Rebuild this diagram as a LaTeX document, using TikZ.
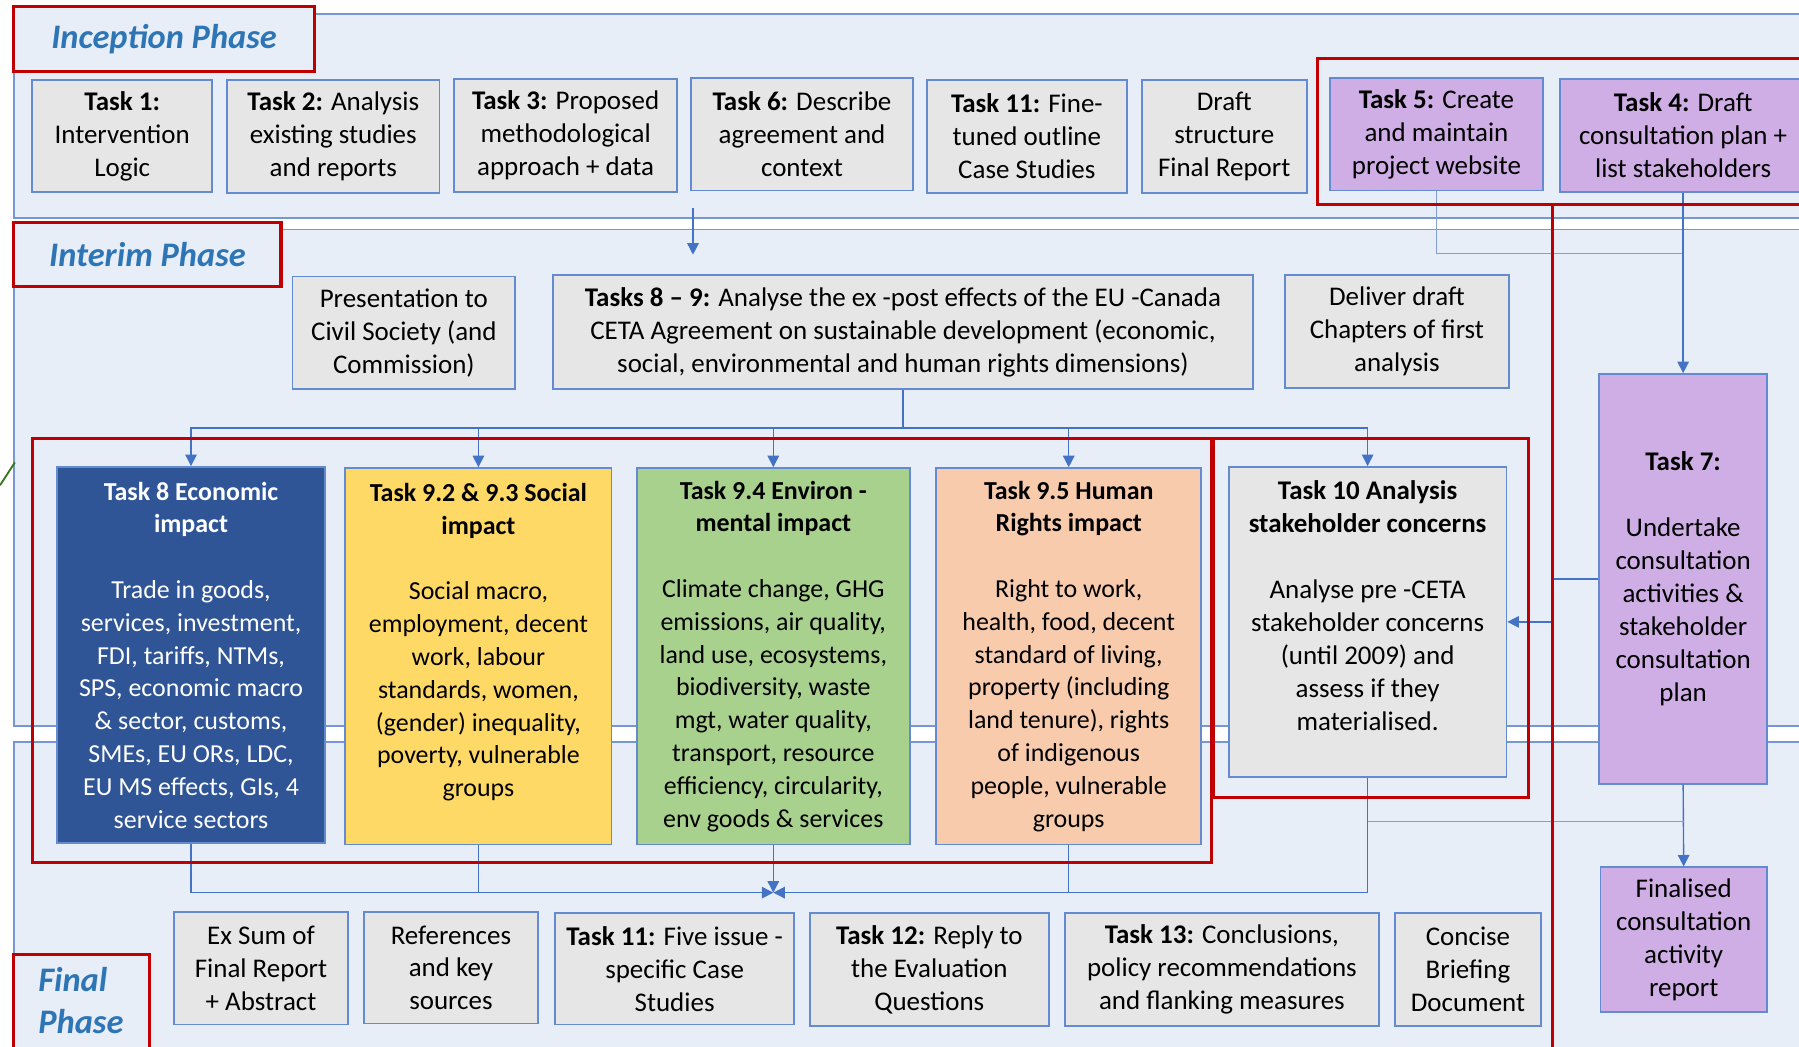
\documentclass[tikz,border=0pt]{standalone}
\usepackage{fontspec}
\setmainfont{Carlito}
\usetikzlibrary{arrows.meta}
\definecolor{bandfill}{RGB}{232,238,248}
\definecolor{bandline}{RGB}{118,150,212}
\definecolor{boxline}{RGB}{100,138,208}
\definecolor{grayfill}{RGB}{231,230,230}
\definecolor{ecoblue}{RGB}{47,85,151}
\definecolor{socyel}{RGB}{255,217,102}
\definecolor{envgreen}{RGB}{169,209,142}
\definecolor{hrpeach}{RGB}{248,203,173}
\definecolor{lav}{RGB}{207,174,230}
\definecolor{redframe}{RGB}{192,0,0}
\definecolor{phaseblue}{RGB}{46,117,182}
\definecolor{conncol}{RGB}{68,114,196}
\definecolor{connlight}{RGB}{130,160,215}
\definecolor{darkgreen}{RGB}{56,118,29}
\newcommand\bx[7]{\node[#6, minimum width={(#4-#2)*0.5pt}, minimum height={(#5-#3)*0.5pt}] (#1) at ({(#2+#4)/2},{(#3+#5)/2}) {#7};}
\begin{document}
\begin{tikzpicture}[x=0.5pt,y=-0.5pt,
  base/.style={draw=boxline, line width=0.8pt, inner sep=0pt, align=center, text=black,
    font=\fontsize{11.75}{14.35}\selectfont},
  graybox/.style={base, fill=grayfill},
  purplebox/.style={base, fill=lav},
  impact/.style={base, font=\fontsize{11.3}{14.3}\selectfont},
  ecobox/.style={impact, fill=ecoblue, text=white},
  socbox/.style={impact, fill=socyel},
  envbox/.style={impact, fill=envgreen},
  hrbox/.style={impact, fill=hrpeach},
  band/.style={fill=bandfill, draw=bandline, line width=0.8pt},
  redbox/.style={draw=redframe, line width=1.4pt},
  phaselabel/.style={redbox, fill=bandfill, inner sep=0pt, text=phaseblue,
    font=\fontsize{15}{18}\selectfont\bfseries\itshape},
  conn/.style={draw=conncol, line width=0.6pt},
  connl/.style={draw=connlight, line width=0.6pt},
  arr/.style={conn, -{Triangle[length=5pt,width=5pt]}}
]
\useasboundingbox (0,0) rectangle (1568,912);
\clip (0,0) rectangle (1568,912);
\fill[white] (0,0) rectangle (1568,912);
% bands
\draw[band] (12,12) rectangle (1620,190);
\draw[band] (12,200) rectangle (1620,633);
\draw[band] (12,647) rectangle (1620,960);
\draw[darkgreen, line width=0.8pt] (0,423) -- (13,403);
% phase labels
\bx{lincep}{12}{6}{274}{62}{phaselabel}{\raisebox{-2pt}{Inception Phase}}
\bx{linter}{12}{194}{245}{250}{phaselabel}{Interim Phase}
\draw[redbox, fill=bandfill] (12,832) rectangle (130,960);
\node[anchor=west, inner sep=0pt, align=left, text=phaseblue,
  font=\fontsize{15}{18}\selectfont\bfseries\itshape] (lfinal) at (33,872) {Final\\Phase};
% inception row
\bx{t1}{28}{70}{185}{167}{graybox}{\textbf{Task 1:}\\Intervention\\Logic}
\bx{t2}{198}{70}{383}{168}{graybox}{\textbf{Task 2:} Analysis\\existing studies\\and reports}
\bx{t3}{396}{69}{590}{167}{graybox}{\textbf{Task 3:} Proposed\\methodological\\approach + data}
\bx{t6}{602}{68}{796}{166}{graybox}{\textbf{Task 6:} Describe\\agreement and\\context}
\bx{t11}{808}{70}{982}{168}{graybox}{\textbf{Task 11:} Fine-\\tuned outline\\Case Studies}
\bx{tdraft}{995}{70}{1139}{168}{graybox}{Draft\\structure\\Final Report}
\bx{t5}{1159}{68}{1345}{166}{purplebox}{\textbf{Task 5:} Create\\and maintain\\project website}
\bx{t4}{1360}{69}{1574}{167}{purplebox}{\textbf{Task 4:} Draft\\consultation plan +\\list stakeholders}
% interim row
\bx{pres}{255}{241}{449}{339}{graybox}{Presentation to\\Civil Society (and\\Commission)}
\bx{t89}{482}{240}{1092}{339}{graybox}{\textbf{Tasks 8 – 9:} Analyse the ex -post effects of the EU -Canada\\CETA Agreement on sustainable development (economic,\\social, environmental and human rights dimensions)}
\bx{deliv}{1120}{240}{1315}{338}{graybox}{Deliver draft\\Chapters of first\\analysis}
% impact boxes
\bx{t8}{50}{407}{283}{735}{ecobox}{\textbf{Task 8 Economic}\\\textbf{impact}\\[14.3pt]Trade in goods,\\services, investment,\\FDI, tariffs, NTMs,\\SPS, economic macro\\\& sector, customs,\\SMEs, EU ORs, LDC,\\EU MS effects, GIs, 4\\service sectors}
\bx{t92}{301}{408}{533}{736}{socbox}{\textbf{Task 9.2 \& 9.3 Social}\\\textbf{impact}\\[14.3pt]Social macro,\\employment, decent\\work, labour\\standards, women,\\(gender) inequality,\\poverty, vulnerable\\groups\\\mbox{}}
\bx{t94}{555}{408}{793}{736}{envbox}{\textbf{Task 9.4 Environ -}\\\textbf{mental impact}\\[14.3pt]Climate change, GHG\\emissions, air quality,\\land use, ecosystems,\\biodiversity, waste\\mgt, water quality,\\transport, resource\\efficiency, circularity,\\env goods \& services}
\bx{t95}{816}{408}{1047}{736}{hrbox}{\textbf{Task 9.5 Human}\\\textbf{Rights impact}\\[14.3pt]Right to work,\\health, food, decent\\standard of living,\\property (including\\land tenure), rights\\of indigenous\\people, vulnerable\\groups}
\bx{t10}{1071}{407}{1313}{677}{graybox}{\textbf{Task 10 Analysis}\\\textbf{stakeholder concerns}\\[14.35pt]Analyse pre -CETA\\stakeholder concerns\\(until 2009) and\\assess if they\\materialised.\\\mbox{}}
\bx{t7}{1394}{326}{1540}{683}{purplebox}{\textbf{Task 7:}\\[14.35pt]Undertake\\consultation\\activities \&\\stakeholder\\consultation\\plan}
% final row
\bx{exsum}{152}{795}{303}{893}{graybox}{Ex Sum of\\Final Report\\+ Abstract}
\bx{refs}{317}{795}{469}{892}{graybox}{References\\and key\\sources}
\bx{t11b}{484}{796}{692}{893}{graybox}{\textbf{Task 11:} Five issue -\\specific Case\\Studies}
\bx{t12}{706}{796}{914}{894}{graybox}{\textbf{Task 12:} Reply to\\the Evaluation\\Questions}
\bx{t13}{928}{796}{1202}{894}{graybox}{\textbf{Task 13:} Conclusions,\\policy recommendations\\and flanking measures}
\bx{concise}{1216}{796}{1343}{894}{graybox}{Concise\\Briefing\\Document}
\bx{fin}{1395}{756}{1540}{882}{purplebox}{Finalised\\consultation\\activity\\report}
% connectors
\coordinate (a6s) at (604,181);
\coordinate (a6e) at (604,222);
\draw[arr] (a6s) -- (a6e);
\coordinate (busy) at (0,373);
\draw[arr] (t89.south) |- (t8.north |- busy) -- (t8.north);
\draw[arr] (t89.south |- busy) -| (t92.north);
\draw[arr] (t89.south |- busy) -| (t94.north);
\draw[arr] (t89.south |- busy) -| (t95.north);
\draw[arr] (t89.south |- busy) -| (t10.north);
\coordinate (web) at (0,221);
\draw[connl] (t5.south) |- (t4.south |- web);
\draw[arr] (t4.south) -- (t7.north);
\coordinate (j7) at (1354,542);
\draw[arr] (t7.west) -| (j7) -- (t10.east);
\draw[arr] (t7.south) -- (fin.north);
\coordinate (j10) at (0,716);
\draw[connl] (t10.south) |- (fin.north |- j10);
\coordinate (conv) at (674,778);
\draw[arr] (t10.south) |- (conv);
\draw[arr] (t8.south) |- (conv);
\draw[conn] (t92.south) -- (t92.south |- conv);
\draw[conn] (t95.south) -- (t95.south |- conv);
\draw[arr] (t94.south) -- (conv);
% red frames
\draw[redbox] (28,382) rectangle (1056,752);
\draw[redbox] (1058,382) rectangle (1332,695);
\draw[redbox] (1148,51) rectangle (1620,178);
\draw[redbox] (1353,178) -- (1353,960);
\end{tikzpicture}
\end{document}
